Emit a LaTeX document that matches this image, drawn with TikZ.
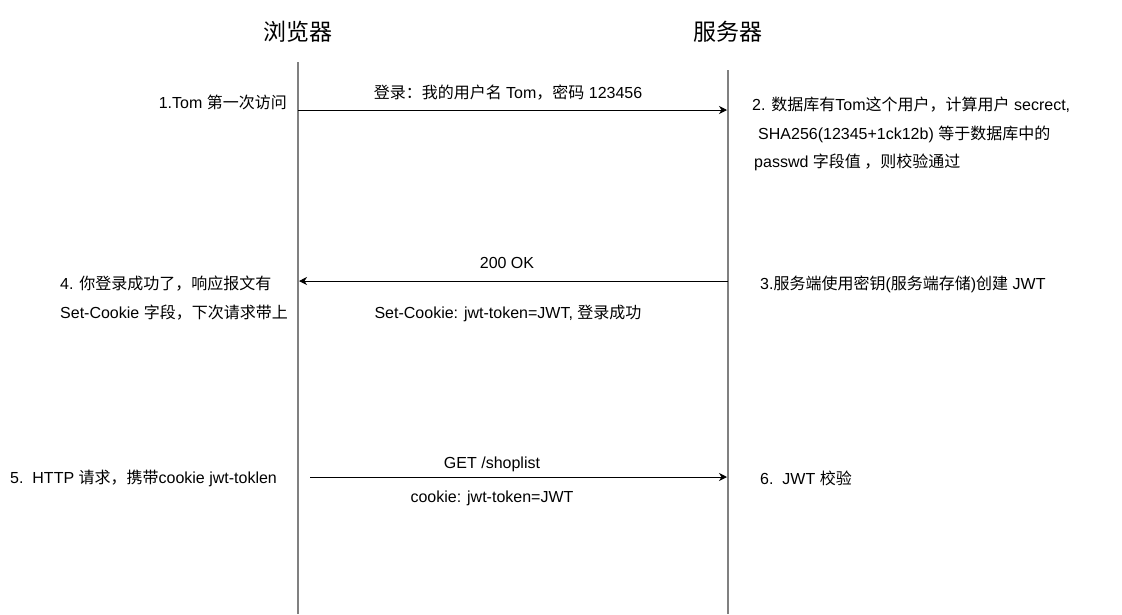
\documentclass[tikz,border=0pt]{standalone}
\usepackage{fontspec}
\setmainfont{Liberation Sans}
\newfontfamily\cjk{Noto Sans CJK SC}
\newcommand\zh[1]{{\cjk #1}}
\usetikzlibrary{arrows.meta}
\definecolor{lifegray}{RGB}{128,128,128}
\begin{document}
\begin{tikzpicture}[x=1pt,y=-1pt,
  lifeline/.style={draw=lifegray,line width=1.3pt},
  msg/.style={draw=black,line width=1pt,-{Stealth[length=8pt,width=8pt,inset=2.5pt]}},
  lbl/.style={inner sep=0pt,font=\fontsize{16}{18}\selectfont,text=black},
  ttl/.style={inner sep=0pt,font=\fontsize{23}{26}\selectfont\cjk,text=black}]
\useasboundingbox[fill=white] (0,0) rectangle (1122,614);
% titles
\node[ttl] (tb) at (298,32) {浏览器};
\node[ttl] (ts) at (728,32) {服务器};
% lifelines
\coordinate (bTop) at (298,62);
\coordinate (bBot) at (298,614);
\coordinate (sTop) at (728,70);
\coordinate (sBot) at (728,614);
\draw[lifeline] (bTop) -- (bBot);
\draw[lifeline] (sTop) -- (sBot);
% message 1
\coordinate (m1a) at (298,110);
\coordinate (m1b) at (727,110);
\draw[msg] (m1a) -- (m1b);
\node[lbl] (m1l) at (508,93) {\zh{登录：我的用户名} Tom\zh{，密码} 123456};
\node[lbl,anchor=east] (s1) at (287,102) {1.Tom \zh{第一次访问}};
\node[lbl,anchor=west] (s2a) at (752,105) {2. \zh{数据库有}Tom\zh{这个用户，计算用户} secrect,};
\node[lbl,anchor=west] (s2b) at (758,134) {SHA256(12345+1ck12b) \zh{等于数据库中的}};
\node[lbl,anchor=west] (s2c) at (754,162) {passwd \zh{字段值 ，则校验通过}};
% message 2
\coordinate (m2a) at (728,281);
\coordinate (m2b) at (299,281);
\draw[msg] (m2a) -- (m2b);
\node[lbl] (m2l) at (507,263) {200 OK};
\node[lbl] (m2m) at (508,313) {Set-Cookie: jwt-token=JWT, \zh{登录成功}};
\node[lbl,anchor=west] (s4a) at (60,284) {4. \zh{你登录成功了，响应报文有}};
\node[lbl,anchor=west] (s4b) at (60,313) {Set-Cookie \zh{字段，下次请求带上}};
\node[lbl,anchor=west] (s3) at (760,284) {3.\zh{服务端使用密钥}(\zh{服务端存储})\zh{创建} JWT};
% message 3
\coordinate (m3a) at (310,477);
\coordinate (m3b) at (727,477);
\draw[msg] (m3a) -- (m3b);
\node[lbl] (m3l) at (492,464) {GET /shoplist};
\node[lbl] (m3m) at (492,498) {cookie: jwt-token=JWT};
\node[lbl,anchor=west] (s5) at (10,478) {5.\ \ HTTP \zh{请求，携带}cookie jwt-toklen};
\node[lbl,anchor=west] (s6) at (760,478) {6.\ \ JWT \zh{校验}};
\end{tikzpicture}
\end{document}
